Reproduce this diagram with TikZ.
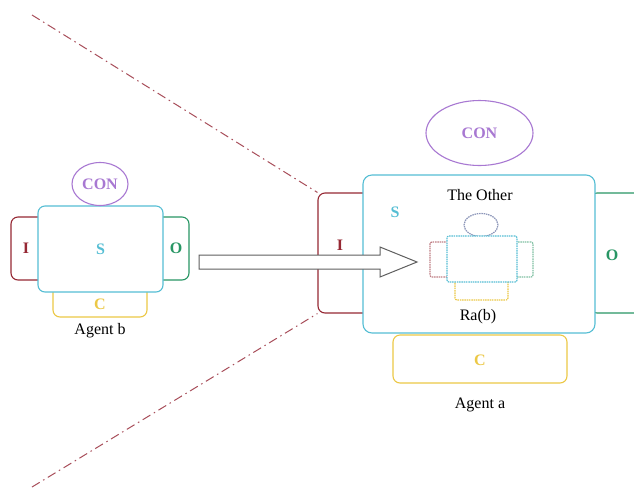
\documentclass[tikz,border=0pt]{standalone}
\usepackage{fontspec}
\setmainfont{Liberation Serif}
\usetikzlibrary{shapes.geometric}
\definecolor{scyan}{RGB}{85,190,212}
\definecolor{ired}{RGB}{150,40,52}
\definecolor{ogreen}{RGB}{40,150,100}
\definecolor{cyellow}{RGB}{236,200,70}
\definecolor{conpurple}{RGB}{168,120,210}
\definecolor{linered}{RGB}{168,78,90}
\definecolor{arrowgray}{RGB}{95,95,95}
\definecolor{ghostcon}{RGB}{140,150,185}
\tikzset{
  part/.style={draw, line width=1.1pt, fill=white, inner sep=0pt},
  sbox/.style={part, draw=scyan, rounded corners=7pt},
  ibox/.style={part, draw=ired, rounded corners=7pt},
  obox/.style={part, draw=ogreen, rounded corners=7pt},
  cbox/.style={part, draw=cyellow, rounded corners=7pt},
  conell/.style={part, draw=conpurple, ellipse},
  ghost/.style={draw, line width=1.2pt, dash pattern=on 1.5pt off 0.8pt, fill=white, inner sep=0pt, rounded corners=2pt},
  lbl/.style={font=\fontsize{16}{18}\selectfont\bfseries, inner sep=0pt},
  txt/.style={font=\fontsize{16}{18}\selectfont, inner sep=0pt},
  sight/.style={draw=linered, line width=1pt, dash pattern=on 9pt off 4pt on 1.5pt off 4pt},
}
\begin{document}
\begin{tikzpicture}[x=1pt,y=-1pt]
\useasboundingbox (0,0) rectangle (634,491);
\clip (0,0) rectangle (634,491);
\fill[white] (0,0) rectangle (634,491);

% ---- Agent b ----
\node[ibox, minimum width=34pt, minimum height=63pt] (bI) at (28,248.5) {};
\node[obox, minimum width=34pt, minimum height=63pt] (bO) at (172,248.5) {};
\node[cbox, minimum width=94pt, minimum height=34pt] (bC) at (100,300) {};
\node[sbox, minimum width=125pt, minimum height=86pt] (bS) at (100.5,249) {};
\node[conell, minimum width=56pt, minimum height=43pt] (bCON) at (100,184) {};
\node[lbl, text=conpurple] at (bCON) {CON};
\node[lbl, text=scyan] at (bS) {S};
\node[lbl, text=ired] at (26,248) {I};
\node[lbl, text=ogreen] at (176,248) {O};
\node[lbl, text=cyellow] at (100,304.5) {C};
\node[txt] (bName) at (100,331) {Agent b};

% ---- Agent a ----
\node[ibox, minimum width=60pt, minimum height=120pt] (aI) at (348,253) {};
\node[obox, minimum width=60pt, minimum height=120pt] (aO) at (620,253) {};
\node[cbox, minimum width=174pt, minimum height=48pt] (aC) at (480,359) {};
\node[sbox, rounded corners=9pt, minimum width=232pt, minimum height=158pt] (aS) at (479,254) {};
\node[conell, minimum width=107pt, minimum height=65pt] (aCON) at (479.5,133) {};
\node[lbl, text=conpurple] at (aCON) {CON};
\node[lbl, text=scyan] at (395,212) {S};
\node[lbl, text=ired] at (340,245) {I};
\node[lbl, text=ogreen] at (612,255) {O};
\node[lbl, text=cyellow] at (480,360) {C};
\node[txt] (aName) at (480,405) {Agent a};
\node[txt] (other) at (480,195) {The Other};
\node[txt] (rab) at (478,317) {Ra(b)};

% ---- model of the other agent inside S ----
\node[ghost, draw=ired!60, minimum width=20pt, minimum height=35pt] (gI) at (440,259.5) {};
\node[ghost, draw=ogreen!60, minimum width=20pt, minimum height=35pt] (gO) at (523,259.5) {};
\node[ghost, draw=cyellow, minimum width=53pt, minimum height=22pt] (gC) at (481.5,289) {};
\node[ghost, draw=ghostcon, ellipse, minimum width=34pt, minimum height=23pt] (gCON) at (481,225) {};
\node[ghost, draw=scyan, minimum width=70pt, minimum height=46pt] (gS) at (482,259) {};

% ---- perception arrow from b into a ----
\coordinate (arS) at (199,262);
\coordinate (arT) at (417,262);
\draw[draw=arrowgray, line width=1pt, fill=white, line join=miter]
  ([yshift=-7pt]arS) -- ([xshift=-37pt,yshift=-7pt]arT) -- ([xshift=-37pt,yshift=-15pt]arT)
  -- (arT) -- ([xshift=-37pt,yshift=15pt]arT) -- ([xshift=-37pt,yshift=7pt]arT)
  -- ([yshift=7pt]arS) -- cycle;

% ---- field of view lines ----
\coordinate (fovTop) at (32,15);
\coordinate (fovBot) at (32,487);
\draw[sight] (fovTop) -- (aI.north west);
\draw[sight] (fovBot) -- (aI.south west);
\end{tikzpicture}
\end{document}
